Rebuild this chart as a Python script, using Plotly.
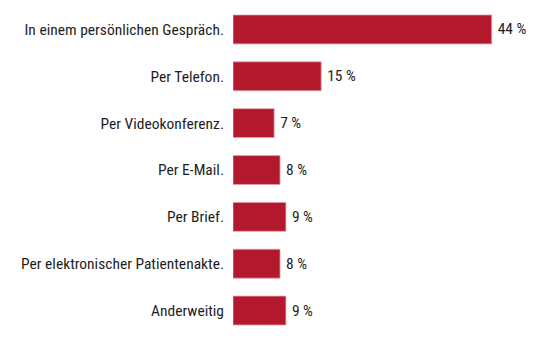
import plotly.graph_objects as go

categories = [
    "In einem persönlichen Gespräch.",
    "Per Telefon.",
    "Per Videokonferenz.",
    "Per E-Mail.",
    "Per Brief.",
    "Per elektronischer Patientenakte.",
    "Anderweitig",
]
values = [44, 15, 7, 8, 9, 8, 9]
value_labels = [f"\u2009{v} %" for v in values]

FONT = "Liberation Sans Narrow, Roboto Condensed, Roboto, sans-serif"

fig = go.Figure(
    go.Bar(
        x=values,
        y=categories,
        orientation="h",
        marker=dict(color="#B3192D", line=dict(color="#E3A1AA", width=0.8)),
        text=value_labels,
        textposition="outside",
        textfont=dict(family=FONT, size=15.5, color="#1e1e1e"),
        cliponaxis=False,
        hoverinfo="skip",
    )
)

fig.update_layout(
    width=550,
    height=349,
    margin=dict(l=233, r=23, t=5.5, b=14.5),
    paper_bgcolor="white",
    plot_bgcolor="white",
    bargap=0.383,
    showlegend=False,
    font=dict(family=FONT, size=15.5, color="#1e1e1e"),
    xaxis=dict(range=[0, 50], visible=False, fixedrange=True),
    yaxis=dict(
        categoryorder="array",
        categoryarray=categories,
        autorange="reversed",
        showgrid=False,
        zeroline=False,
        showline=False,
        ticks="",
        ticklabelstandoff=8,
        tickfont=dict(family=FONT, size=15.5, color="#1e1e1e"),
        fixedrange=True,
    ),
)

fig.write_html("out.html")
